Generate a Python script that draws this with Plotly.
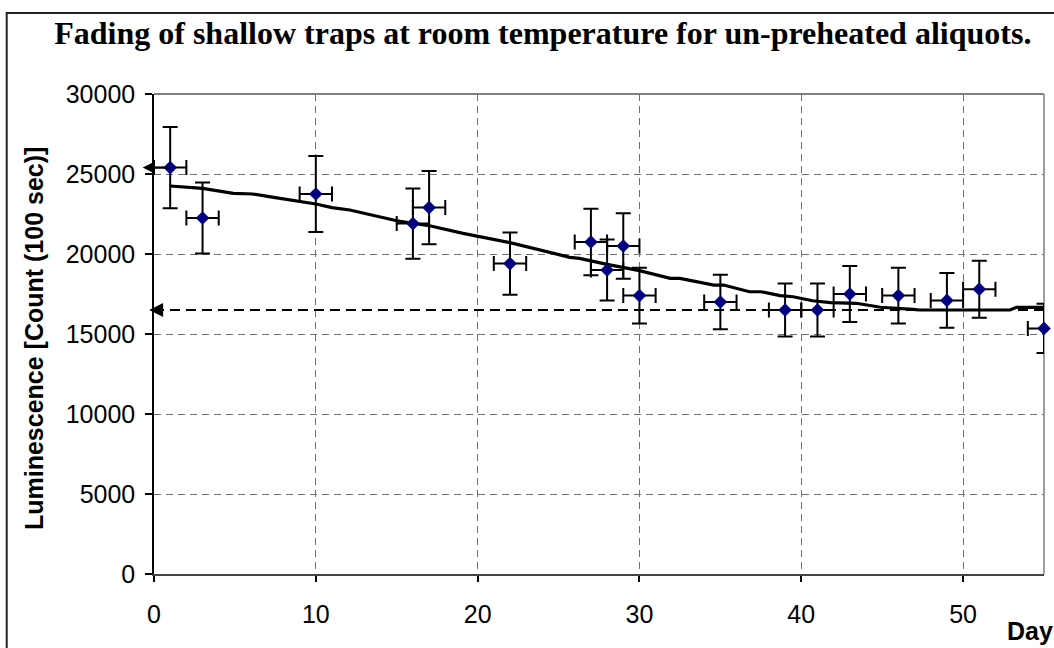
import plotly.graph_objects as go

# ---- data ----
days = [1, 3, 10, 16, 17, 22, 27, 28, 29, 30, 35, 39, 41, 43, 46, 49, 51, 55]
lum = [25400, 22250, 23750, 21900, 22900, 19400, 20750, 19000, 20500, 17400,
       17000, 16500, 16500, 17500, 17400, 17100, 17800, 15350]
lum_err = [2540, 2225, 2375, 2190, 2290, 1940, 2075, 1900, 2050, 1740,
           1700, 1650, 1650, 1750, 1740, 1710, 1780, 1535]
day_err = [1, 1, 1, 1, 1, 1, 1, 1, 1, 1, 1, 1, 1, 1, 1, 1, 1, 1]

fit_x = [1, 3, 4.9, 6.1, 7.4, 9, 10, 11, 12.1, 15, 17.1, 19.1, 22, 25.7, 26.3,
         28, 30, 31.9, 32.5, 34.6, 35.2, 36.8, 37.5, 38.7, 39.5, 40.7, 41.8,
         43.4, 44.9, 46.9, 47.3, 52.9, 53.3, 55]
fit_y = [24250, 24100, 23790, 23750, 23540, 23270, 23125, 22900, 22750, 22080,
         21750, 21290, 20710, 19790, 19730, 19350, 18960, 18480, 18480, 18060,
         18060, 17640, 17640, 17400, 17330, 17080, 16960, 16920, 16670, 16540,
         16500, 16500, 16670, 16670]

level_x = [0, 55]
level_y = [16500, 16500]
initial_level = 25400

x_ticks = [0, 10, 20, 30, 40, 50]
x_tick_labels = ["0", "10", "20", "30", "40", "50"]
y_ticks = [0, 5000, 10000, 15000, 20000, 25000, 30000]
y_tick_labels = ["0", "5000", "10000", "15000", "20000", "25000", "30000"]

title_text = "Fading of shallow traps at room temperature for un-preheated aliquots."
y_title = "Luminescence [Count (100 sec)]"
x_title = "Day"

SANS = "Liberation Sans, Arial, sans-serif"
SERIF = "Liberation Serif, Times New Roman, serif"

fig = go.Figure()

# dashed level line
fig.add_trace(go.Scatter(
    x=level_x, y=level_y, mode="lines",
    line=dict(color="black", width=2, dash="10px,6px"),
    hoverinfo="skip", showlegend=False, cliponaxis=False))

# fit curve
fig.add_trace(go.Scatter(
    x=fit_x, y=fit_y, mode="lines",
    line=dict(color="black", width=3.2),
    showlegend=False, cliponaxis=False))

# data points with error bars
fig.add_trace(go.Scatter(
    x=days, y=lum, mode="markers",
    marker=dict(symbol="diamond", size=10.5, color="#000080"),
    error_y=dict(type="data", array=lum_err, color="black", thickness=2, width=7.5),
    error_x=dict(type="data", array=day_err, color="black", thickness=2, width=7.5),
    showlegend=False, cliponaxis=False))

fig.update_layout(
    width=1054, height=648,
    margin=dict(l=154, r=10, t=94, b=74),
    paper_bgcolor="white", plot_bgcolor="white",
    title=dict(text="<b>" + title_text + "</b>", x=0.515, xref="container",
               xanchor="center", y=0.95, yref="container", yanchor="middle",
               font=dict(family=SERIF, size=32, color="black")),
    xaxis=dict(range=[0, 55], tickvals=x_ticks, ticktext=x_tick_labels,
               ticks="outside", ticklen=6, ticklabelstandoff=11,
               tickcolor="black", tickwidth=1.5,
               showline=True, linecolor="#444444", linewidth=2,
               showgrid=True, gridcolor="#707070", gridwidth=1, griddash="7px,5px",
               zeroline=False,
               tickfont=dict(family=SANS, size=25, color="black")),
    yaxis=dict(range=[0, 30000], tickvals=y_ticks, ticktext=y_tick_labels,
               ticks="outside", ticklen=7, ticklabelstandoff=5,
               tickcolor="black", tickwidth=1.5,
               showline=True, linecolor="black", linewidth=1.5,
               showgrid=True, gridcolor="#707070", gridwidth=1, griddash="7px,5px",
               zeroline=False,
               tickfont=dict(family=SANS, size=25, color="black")),
    showlegend=False,
)

# plot frame top and right (gray), beneath the traces
fig.add_shape(type="line", xref="paper", yref="paper", x0=0, x1=1, y0=1, y1=1,
              line=dict(color="#808080", width=2), layer="below")
fig.add_shape(type="line", xref="paper", yref="paper", x0=1, x1=1, y0=0, y1=1,
              line=dict(color="#a0a0a0", width=2), layer="below")

# outer chart border
fig.add_shape(type="rect", xref="paper", yref="paper",
              x0=-0.1655, x1=1.03, y0=-0.2, y1=1.169,
              line=dict(color="#222222", width=2), fillcolor="rgba(0,0,0,0)",
              layer="below")

# arrows
fig.add_annotation(x=-0.7, y=initial_level, ax=1, ay=initial_level,
                   xref="x", yref="y", axref="x", ayref="y", text="",
                   showarrow=True, arrowhead=2, arrowsize=1.2, arrowwidth=1.8,
                   arrowcolor="black", standoff=0, startstandoff=0)
fig.add_annotation(x=-0.3, y=level_y[0], ax=0.6, ay=level_y[0],
                   xref="x", yref="y", axref="x", ayref="y", text="",
                   showarrow=True, arrowhead=2, arrowsize=1.4, arrowwidth=2,
                   arrowcolor="black", standoff=0, startstandoff=0)

# axis titles
fig.add_annotation(text="<b>" + y_title + "</b>", xref="paper", yref="paper",
                   x=-0.134, y=0.491, xanchor="center", yanchor="middle",
                   textangle=-90, showarrow=False,
                   font=dict(family=SANS, size=25, color="black"))
fig.add_annotation(text="<b>" + x_title + "</b>", xref="paper", yref="paper",
                   x=0.956, y=-0.152, xanchor="left", yanchor="bottom",
                   showarrow=False,
                   font=dict(family=SANS, size=25, color="black"))

fig.write_html("out.html")
